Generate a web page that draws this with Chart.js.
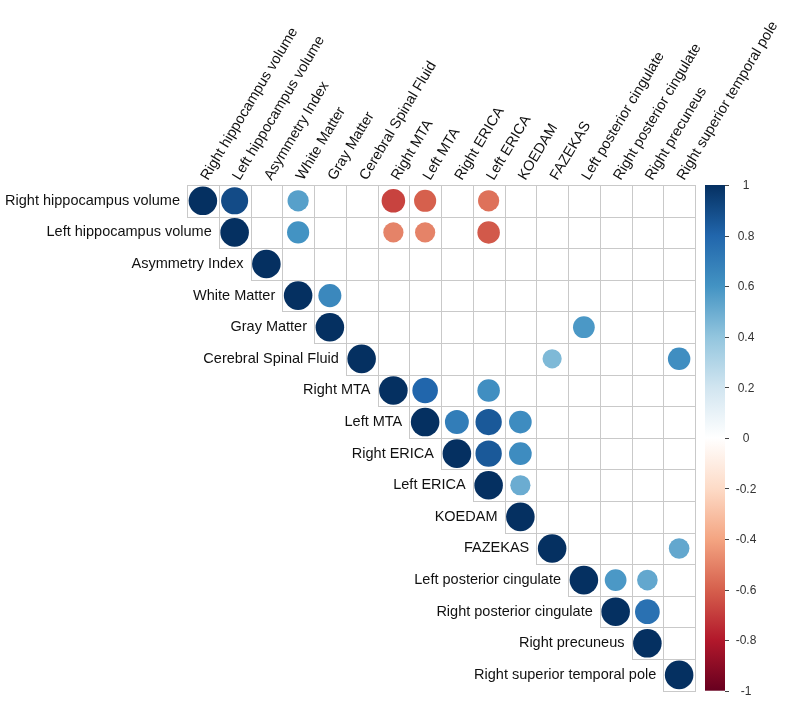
<!DOCTYPE html>
<html>
<head>
<meta charset="utf-8">
<script src="https://cdn.jsdelivr.net/npm/chart.js@4.4.1/dist/chart.umd.min.js"></script>
<style>
  html, body { margin: 0; padding: 0; background: #fff; }
</style>
</head>
<body>
<canvas id="corrChart" width="785" height="705"></canvas>
<script>
// Variables (rows and columns share the same order)
const variables = [
    'Right hippocampus volume', 'Left hippocampus volume', 'Asymmetry Index',
    'White Matter', 'Gray Matter', 'Cerebral Spinal Fluid', 'Right MTA', 'Left MTA',
    'Right ERICA', 'Left ERICA', 'KOEDAM', 'FAZEKAS', 'Left posterior cingulate',
    'Right posterior cingulate', 'Right precuneus', 'Right superior temporal pole'
];

// Upper-triangle cells that carry a circle (row index, column index, correlation)
const pairRow = [
    0, 1, 2, 3, 4, 5, 6, 7, 8, 9, 10, 11, 12, 13, 14, 15,
    0, 0, 0, 0, 0,
    1, 1, 1, 1,
    3, 4, 5, 5,
    6, 6, 7, 7, 7, 8, 8, 9,
    11, 12, 12, 13
];
const pairCol = [
    0, 1, 2, 3, 4, 5, 6, 7, 8, 9, 10, 11, 12, 13, 14, 15,
    1, 3, 6, 7, 9,
    3, 6, 7, 9,
    4, 12, 11, 15,
    7, 9, 8, 9, 10, 9, 10, 10,
    15, 13, 14, 14
];
const pairValue = [
    1, 1, 1, 1, 1, 1, 1, 1, 1, 1, 1, 1, 1, 1, 1, 1,
    0.9, 0.55, -0.68, -0.6, -0.55,
    0.6, -0.5, -0.5, -0.62,
    0.65, 0.58, 0.45, 0.62,
    0.8, 0.62, 0.7, 0.85, 0.63, 0.85, 0.63, 0.5,
    0.52, 0.58, 0.52, 0.75
];

// Colour legend
const legendTicks = [1, 0.8, 0.6, 0.4, 0.2, 0, -0.2, -0.4, -0.6, -0.8, -1];
const palette = ['#67001F', '#B2182B', '#D6604D', '#F4A582', '#FDDBC7', '#FFFFFF',
                 '#D1E5F0', '#92C5DE', '#4393C3', '#2166AC', '#053061'];

const FONT = '"Liberation Sans", Arial, sans-serif';

function hexToRgb(h) {
    return [parseInt(h.slice(1, 3), 16), parseInt(h.slice(3, 5), 16), parseInt(h.slice(5, 7), 16)];
}

// map a correlation in [-1, 1] onto the palette
function corrColor(v) {
    const pos = (v + 1) / 2 * (palette.length - 1);
    const i = Math.min(Math.floor(pos), palette.length - 2);
    const t = pos - i;
    const a = hexToRgb(palette[i]), b = hexToRgb(palette[i + 1]);
    const c = a.map((ch, k) => Math.round(ch + (b[k] - ch) * t));
    return `rgb(${c[0]}, ${c[1]}, ${c[2]})`;
}

const points = pairValue.map((v, k) => ({ x: pairCol[k] + 0.5, y: pairRow[k] + 0.5, v: v }));

// cell size in pixels, measured from the x scale once the layout is done
let cellPx = 0;
const cellPlugin = {
    id: 'cellSize',
    afterLayout(chart) {
        const xs = chart.scales.x;
        const w = Math.abs(xs.getPixelForValue(1) - xs.getPixelForValue(0));
        cellPx = (isFinite(w) && w > 0) ? w : (chart.chartArea.right - chart.chartArea.left) / variables.length;
    }
};

// grid for the upper triangle, drawn under the circles
const gridPlugin = {
    id: 'corrGrid',
    beforeDatasetsDraw(chart) {
        const { ctx, scales: { x, y } } = chart;
        ctx.save();
        ctx.strokeStyle = '#c9c9c9';
        ctx.lineWidth = 1;
        for (let r = 0; r < variables.length; r++) {
            for (let c = r; c < variables.length; c++) {
                const x0 = Math.round(x.getPixelForValue(c)) + 0.5;
                const x1 = Math.round(x.getPixelForValue(c + 1)) + 0.5;
                const y0 = Math.round(y.getPixelForValue(r)) + 0.5;
                const y1 = Math.round(y.getPixelForValue(r + 1)) + 0.5;
                ctx.strokeRect(x0, y0, x1 - x0, y1 - y0);
            }
        }
        ctx.restore();
    }
};

// row/column labels and colour legend
const labelPlugin = {
    id: 'corrLabels',
    afterDatasetsDraw(chart) {
        const { ctx, chartArea, scales: { x, y } } = chart;
        ctx.save();
        ctx.fillStyle = '#111';
        ctx.font = '14.5px ' + FONT;

        // row labels, right-aligned against the diagonal cell
        ctx.textAlign = 'right';
        ctx.textBaseline = 'middle';
        variables.forEach((name, i) => {
            ctx.fillText(name, x.getPixelForValue(i) - 7, y.getPixelForValue(i + 0.5));
        });

        // column labels, rotated
        ctx.textAlign = 'left';
        ctx.textBaseline = 'alphabetic';
        variables.forEach((name, i) => {
            ctx.save();
            ctx.translate(x.getPixelForValue(i + 0.5) + 5, chartArea.top - 4);
            ctx.rotate(-59 * Math.PI / 180);
            ctx.fillText(name, 0, 0);
            ctx.restore();
        });

        // colour bar
        const barLeft = chartArea.right + 10;
        const barW = 20;
        const grad = ctx.createLinearGradient(0, chartArea.bottom, 0, chartArea.top);
        palette.forEach((c, k) => grad.addColorStop(k / (palette.length - 1), c));
        ctx.fillStyle = grad;
        ctx.fillRect(barLeft, chartArea.top, barW, chartArea.bottom - chartArea.top);

        ctx.strokeStyle = '#444';
        ctx.lineWidth = 1;
        ctx.font = '12px ' + FONT;
        ctx.fillStyle = '#333';
        ctx.textAlign = 'center';
        ctx.textBaseline = 'middle';
        legendTicks.forEach(t => {
            const py = chartArea.bottom - (t + 1) / 2 * (chartArea.bottom - chartArea.top);
            ctx.beginPath();
            ctx.moveTo(barLeft + barW, Math.round(py) + 0.5);
            ctx.lineTo(barLeft + barW + 4, Math.round(py) + 0.5);
            ctx.stroke();
            ctx.fillText(String(t), barLeft + barW + 21, py + 1);
        });
        ctx.restore();
    }
};

const chart = new Chart(document.getElementById('corrChart').getContext('2d'), {
    type: 'scatter',
    data: {
        datasets: [{
            data: points,
            pointBackgroundColor: ctx => ctx.raw ? corrColor(ctx.raw.v) : '#000',
            pointBorderWidth: 0,
            pointRadius: ctx => (ctx.raw && cellPx) ? 0.45 * cellPx * Math.sqrt(Math.abs(ctx.raw.v)) : 0,
            pointHoverRadius: ctx => (ctx.raw && cellPx) ? 0.45 * cellPx * Math.sqrt(Math.abs(ctx.raw.v)) : 0,
            showLine: false
        }]
    },
    options: {
        responsive: false,
        animation: false,
        devicePixelRatio: 1,
        layout: {
            padding: { left: 187, top: 185, right: 90, bottom: 12 }
        },
        plugins: {
            legend: { display: false },
            tooltip: { enabled: false }
        },
        scales: {
            x: { type: 'linear', min: 0, max: 16, display: false },
            y: { type: 'linear', min: 0, max: 16, reverse: true, display: false }
        }
    },
    plugins: [cellPlugin, gridPlugin, labelPlugin]
});
chart.update();
</script>
</body>
</html>
